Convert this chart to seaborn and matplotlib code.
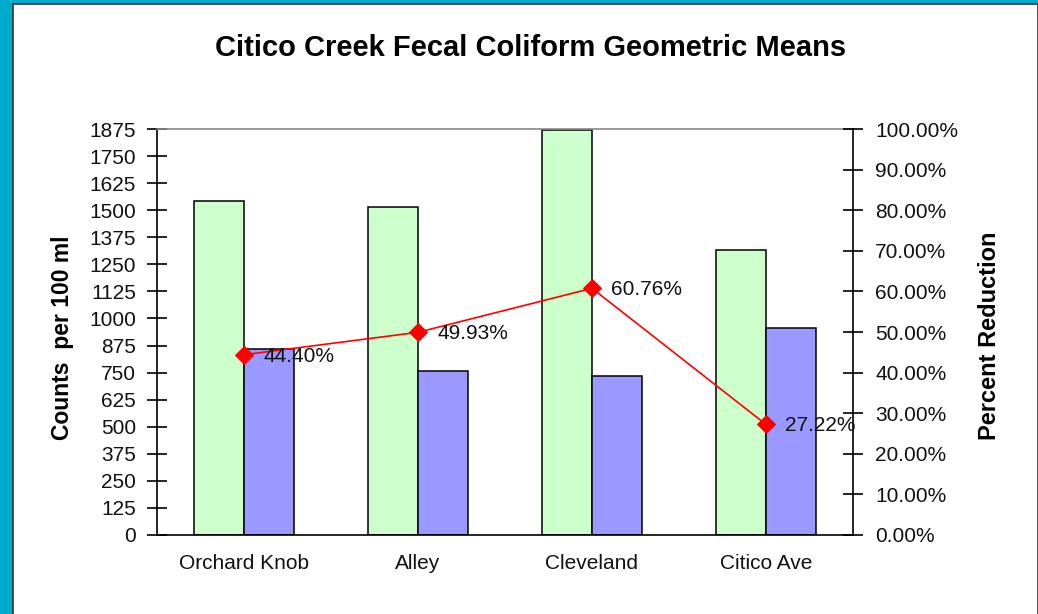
import matplotlib
matplotlib.use("Agg")
import matplotlib.pyplot as plt
from matplotlib.patches import Rectangle
from matplotlib.ticker import FixedLocator, FuncFormatter
import numpy as np
import pandas as pd
import seaborn as sns

# ---- data ----
sites = ["Orchard Knob", "Alley", "Cleveland", "Citico Ave"]
series_names = ["Before", "After"]
before_counts = [1543, 1515, 1871, 1316]
after_counts = [858, 759, 734, 958]
pct_reduction = [44.40, 49.93, 60.76, 27.22]
pct_labels = ["44.40%", "49.93%", "60.76%", "27.22%"]
left_ticks = [0, 125, 250, 375, 500, 625, 750, 875, 1000, 1125, 1250, 1375, 1500, 1625, 1750, 1875]
right_ticks = [0, 10, 20, 30, 40, 50, 60, 70, 80, 90, 100]

sns.set_style("white")
plt.rcParams["font.family"] = ["Liberation Sans", "DejaVu Sans"]
plt.rcParams["text.color"] = "black"

W, H = 1038, 614
fig = plt.figure(figsize=(W / 100, H / 100), dpi=100)
fig.patch.set_facecolor("#00AACC")
# white chart area with thin dark border
fig.patches.append(Rectangle((13 / W, -0.01), (W - 13.5) / W, (H - 4) / H + 0.01,
                             transform=fig.transFigure, facecolor="white",
                             edgecolor="#333333", linewidth=1.2, zorder=-5))

L, R, T, B = 157, 853, 129, 535
ax = fig.add_axes([L / W, (H - B) / H, (R - L) / W, (B - T) / H])
ax.set_zorder(1)
ax.set_facecolor("white")

df = pd.DataFrame({
    "site": sites * 2,
    "series": [series_names[0]] * 4 + [series_names[1]] * 4,
    "count": before_counts + after_counts,
})
sns.barplot(data=df, x="site", y="count", hue="series", order=sites,
            hue_order=series_names, palette=["#CCFFCC", "#9999FF"],
            width=0.58, gap=0, edgecolor="black", linewidth=1.1,
            saturation=1, legend=False, ax=ax)

FS = 15
ax.set_xlim(-0.5, 3.5)
ax.set_ylim(0, 1875)
ax.set_yticks(left_ticks)
ax.set_yticklabels([str(t) for t in left_ticks])
ax.set_xlabel("")
ax.set_ylabel("")
ax.xaxis.set_major_locator(FixedLocator(range(4)))
ax.set_xticklabels(sites)
ax.xaxis.set_minor_locator(FixedLocator([-0.5, 0.5, 1.5, 2.5, 3.5]))
ax.tick_params(axis="x", which="major", length=0, pad=14, labelsize=FS, colors="black")
ax.tick_params(axis="x", which="minor", length=13, direction="inout", width=1.2, color="black")
ax.tick_params(axis="y", which="major", length=14, direction="inout", width=1.2,
               color="black", labelsize=FS, pad=8, left=True)
for lab in ax.get_xticklabels() + ax.get_yticklabels():
    lab.set_color("#111111")

for s in ["left", "bottom"]:
    ax.spines[s].set_color("black")
    ax.spines[s].set_linewidth(1.2)
    ax.spines[s].set_visible(True)
ax.spines["top"].set_color("#888888")
ax.spines["top"].set_linewidth(1.2)
ax.spines["top"].set_visible(True)
ax.spines["right"].set_visible(False)

ax2 = ax.twinx()
ax2.set_ylim(0, 100)
sns.lineplot(x=np.arange(4), y=pct_reduction, ax=ax2, color="#FF0000",
             linewidth=1.2, marker="D", markersize=9, markeredgecolor="#FF0000")
ax2.set_yticks(right_ticks)
ax2.yaxis.set_major_formatter(FuncFormatter(lambda v, p: f"{v:.2f}%"))
ax2.tick_params(axis="y", which="major", length=14, direction="inout", width=1.2,
                color="black", labelsize=FS, pad=9, right=True, labelcolor="#111111")
ax2.set_ylabel("")
ax2.spines["right"].set_visible(True)
ax2.spines["right"].set_color("black")
ax2.spines["right"].set_linewidth(1.2)
for s in ["left", "top", "bottom"]:
    ax2.spines[s].set_visible(False)
ax2.grid(False)
ax.grid(False)

for i, (v, lab) in enumerate(zip(pct_reduction, pct_labels)):
    ax2.annotate(lab, (i, v), xytext=(14, -1), textcoords="offset points",
                 ha="left", va="center", fontsize=FS, color="#111111", zorder=5)

fig.text(531 / W, 1 - 48 / H, "Citico Creek Fecal Coliform Geometric Means",
         ha="center", va="center", fontsize=21, fontweight="bold", color="black")
fig.text(62 / W, 1 - 338 / H, "Counts  per 100 ml", rotation=90, ha="center",
         va="center", fontsize=16.5, fontweight="bold", color="black")
fig.text(990 / W, 1 - 336 / H, "Percent Reduction", rotation=90, ha="center",
         va="center", fontsize=17, fontweight="bold", color="black")

fig.savefig("out.png", dpi=100, facecolor=fig.get_facecolor())
